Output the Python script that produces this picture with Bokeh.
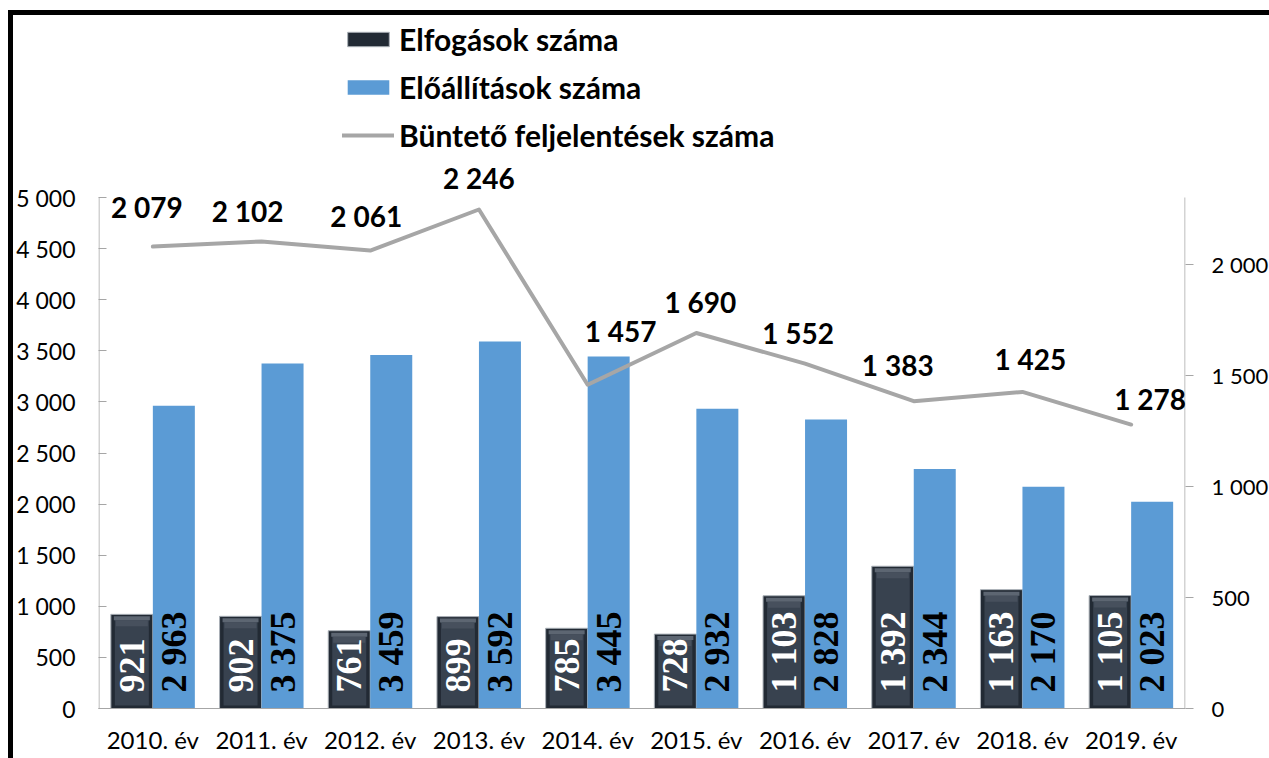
import numpy as np
from bokeh.plotting import figure
from bokeh.models import (Range1d, LinearAxis, FixedTicker, ColumnDataSource, Legend,
                          LegendItem, GlobalInlineStyleSheet)
from bokeh.core.properties import value
from bokeh.embed import file_html
from bokeh.resources import INLINE

# ---- data ----
years = ["2010. év", "2011. év", "2012. év", "2013. év", "2014. év",
         "2015. év", "2016. év", "2017. év", "2018. év", "2019. év"]
elfogasok = [921, 902, 761, 899, 785, 728, 1103, 1392, 1163, 1105]
eloallitasok = [2963, 3375, 3459, 3592, 3445, 2932, 2828, 2344, 2170, 2023]
feljelentesek = [2079, 2102, 2061, 2246, 1457, 1690, 1552, 1383, 1425, 1278]
left_ticks = [0, 500, 1000, 1500, 2000, 2500, 3000, 3500, 4000, 4500, 5000]
right_ticks = [0, 500, 1000, 1500, 2000]

# ---- label placement (screen px) ----
lab_dx = [-6, -14, -4, 0, 33, 4, -7, -16, 8, 19]
lab_dy = [-40, -30, -35, -31, -54, -31, -31, -36, -33, -26]


def fmt(v):
    return f"{v:,}".replace(",", " ")


W, H = 1290, 758
ML, MR, MT, MB = 98, 105, 0, 50
FW = W - ML - MR          # frame width in px
FH = H - MT - MB          # frame height in px
AXIS_PX = 511             # px height of the value axes
YMAX, RMAX = 5000, 2300
Y_END = YMAX * FH / AXIS_PX
R_END = RMAX * FH / AXIS_PX

page_css = GlobalInlineStyleSheet(css="""
html, body { overflow: hidden !important; }
body::after {
  content: ""; position: fixed; left: 8px; top: 10px;
  width: 3000px; height: 3000px;
  border-left: 5px solid #000; border-top: 5px solid #000;
  pointer-events: none; z-index: 100;
}
""")

p = figure(width=W, height=H, output_backend="svg", toolbar_location=None,
           x_range=Range1d(0, 10), y_range=Range1d(0, Y_END),
           min_border_left=ML, min_border_right=MR, min_border_top=MT, min_border_bottom=MB)
p.stylesheets = [page_css]
p.outline_line_color = None
p.xgrid.visible = False
p.ygrid.visible = False
p.background_fill_color = "white"
p.border_fill_color = "white"
p.extra_y_ranges = {"r": Range1d(0, R_END)}

pxx = 10 / FW       # data units per pixel along x
pxy = Y_END / FH    # data units per pixel along y

AX = "#a6a6a6"
FONT = "Lato"

# axis lines, only as tall as the value scale
p.segment(x0=[0.5 * pxx, 10 - 0.5 * pxx], y0=[0, 0], x1=[0.5 * pxx, 10 - 0.5 * pxx],
          y1=[YMAX, YMAX], line_color=AX, line_width=1)

n = len(years)
xc = np.arange(n) + 0.5
bw = 42 * pxx
dark_x = xc - bw / 2
blue_x = xc + bw / 2

# dark bevelled bars
el = np.array(elfogasok, dtype=float)
r_dark = p.vbar(x=dark_x, width=bw, top=el, bottom=0, fill_color="#222a34",
                line_color="#aab0b7", line_width=1)
p.vbar(x=dark_x, width=bw - 8 * pxx, top=el - 5 * pxy, bottom=3 * pxy,
       fill_color="#38424f", line_color=None)
p.vbar(x=dark_x, width=bw - 6 * pxx, top=el - 2 * pxy, bottom=el - 6 * pxy,
       fill_color="#5d6672", line_color=None)
p.vbar(x=dark_x, width=bw - 10 * pxx, top=el - 6 * pxy, bottom=el - 12 * pxy,
       fill_color="#47505d", line_color=None)

# blue bars
r_blue = p.vbar(x=blue_x, width=bw, top=eloallitasok, bottom=0,
                fill_color="#5b9bd5", line_color=None)

# line on secondary axis
r_line = p.line(x=xc, y=feljelentesek, y_range_name="r", line_color=AX,
                line_width=4, line_join="round", line_cap="round")

# bar value labels
p.text(x=dark_x, y=[0] * n, text=[fmt(v) for v in elfogasok], angle=np.pi / 2,
       text_align="left", text_baseline="middle", y_offset=-16,
       text_font=value("Liberation Serif"), text_font_style="bold",
       text_font_size="36px", text_color="white")
p.text(x=blue_x, y=[0] * n, text=[fmt(v) for v in eloallitasok], angle=np.pi / 2,
       text_align="left", text_baseline="middle", y_offset=-16,
       text_font=value("Liberation Serif"), text_font_style="bold",
       text_font_size="36px", text_color="black")

# line value labels
lsrc = ColumnDataSource(dict(x=xc, y=feljelentesek, t=[fmt(v) for v in feljelentesek],
                             dx=lab_dx, dy=lab_dy))
p.text(x="x", y="y", text="t", x_offset="dx", y_offset="dy", source=lsrc,
       y_range_name="r", text_align="center", text_baseline="middle",
       text_font=value("Lato"), text_font_style="bold", text_font_size="28px",
       text_color="black")

# left axis
ya = p.yaxis[0]
ya.ticker = FixedTicker(ticks=left_ticks)
ya.major_label_overrides = {t: fmt(t) for t in left_ticks}
ya.axis_line_color = None
ya.major_tick_line_color = AX
ya.major_tick_in = 8
ya.major_tick_out = 0
ya.minor_tick_line_color = None
ya.major_label_standoff = 23
ya.major_label_text_font = FONT
ya.major_label_text_font_size = "23px"
ya.major_label_text_color = "black"

# right axis
ra = LinearAxis(y_range_name="r", ticker=FixedTicker(ticks=right_ticks))
ra.major_label_overrides = {t: fmt(t) for t in right_ticks}
ra.axis_line_color = None
ra.major_tick_line_color = AX
ra.major_tick_in = 0
ra.major_tick_out = 8
ra.minor_tick_line_color = None
ra.major_label_standoff = 18
ra.major_label_text_font = FONT
ra.major_label_text_font_size = "22px"
ra.major_label_text_color = "black"
p.add_layout(ra, "right")

# bottom axis
xa = p.xaxis[0]
xa.ticker = FixedTicker(ticks=list(xc))
xa.major_label_overrides = {float(x): lab for x, lab in zip(xc, years)}
xa.axis_line_color = AX
xa.major_tick_line_color = None
xa.minor_tick_line_color = None
xa.major_label_standoff = 10
xa.major_label_text_font = FONT
xa.major_label_text_font_size = "24px"
xa.major_label_text_color = "black"

legend = Legend(items=[
    LegendItem(label="Elfogások száma", renderers=[r_dark]),
    LegendItem(label="Előállítások száma", renderers=[r_blue]),
    LegendItem(label="Büntető feljelentések száma", renderers=[r_line]),
], location=(244, 555), orientation="vertical", glyph_width=52, glyph_height=18,
    label_standoff=5, spacing=12, padding=0, margin=0, border_line_color=None,
    background_fill_alpha=0, label_text_font=FONT, label_text_font_style="bold",
    label_text_font_size="30px", label_text_color="black", label_height=36)
p.add_layout(legend)

open("out.html", "w").write(file_html(p, INLINE))
